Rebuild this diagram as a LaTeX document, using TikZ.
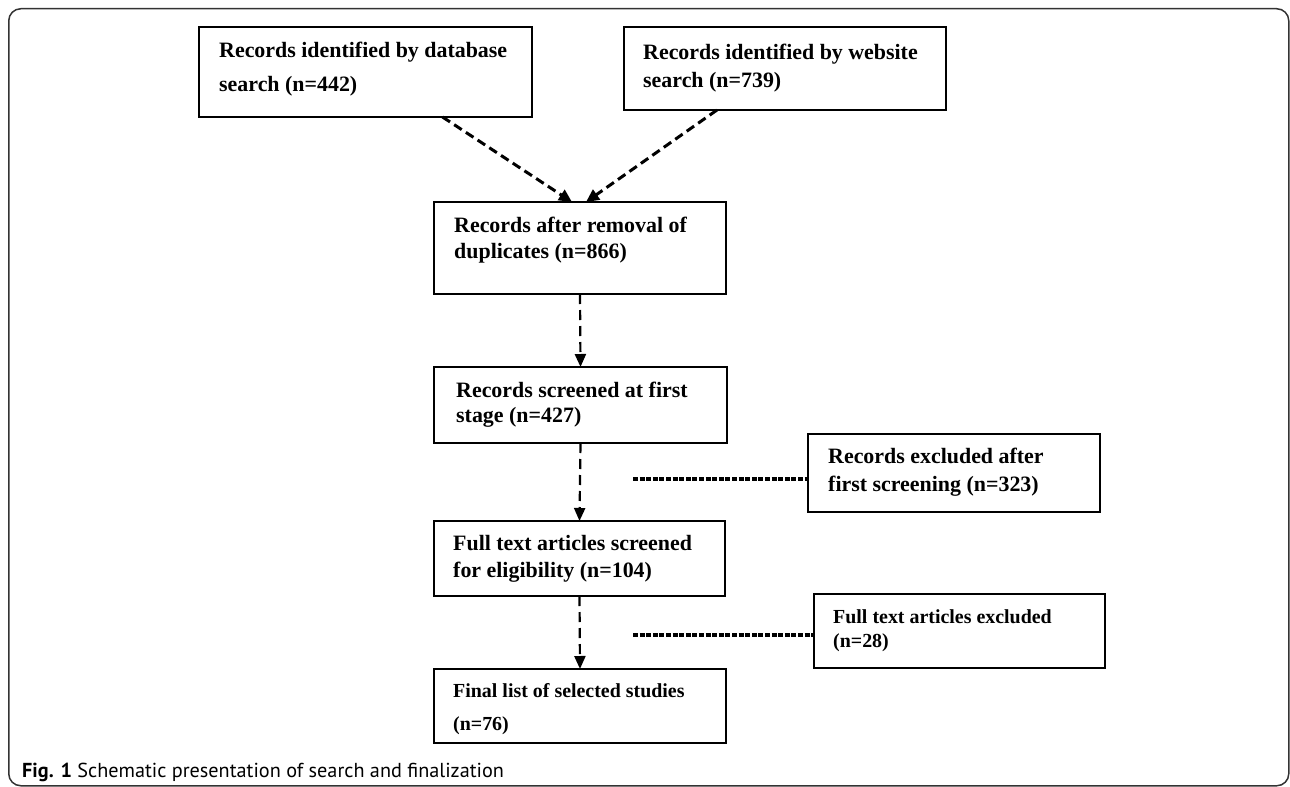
\documentclass[tikz,border=0pt]{standalone}
\usepackage{fontspec}
\setmainfont{Liberation Serif}
\newfontfamily\capfont{PT Sans}
\usetikzlibrary{arrows.meta}
\begin{document}
\begin{tikzpicture}[x=1bp,y=-1bp,
  boxnode/.style={draw=black, line width=2.6bp, inner sep=0pt, outer sep=0pt, anchor=north west},
  txt/.style={inner sep=0pt, anchor=base west, font=\bfseries\fontsize{22}{26}\selectfont},
  txts/.style={inner sep=0pt, anchor=base west, font=\bfseries\fontsize{20}{24}\selectfont},
  diagarrow/.style={line width=3bp, dash pattern=on 9bp off 5bp, -{Triangle[length=13bp,width=12bp]}},
  vertarrow/.style={line width=2.2bp, dash pattern=on 10bp off 6bp, -{Triangle[length=13bp,width=11bp]}},
  dotline/.style={line width=4bp, dash pattern=on 5bp off 1.6bp},
  framenode/.style={draw=black!80, line width=1.5bp, rounded corners=12bp, inner sep=0pt, anchor=north west}]
\useasboundingbox (0,0) rectangle (1290,787);
\node[framenode, minimum width=1280bp, minimum height=777bp] (frame) at (8,8) {};

\node[boxnode, minimum width=333bp, minimum height=90bp] (b1) at (199,27) {};
\node[boxnode, minimum width=322bp, minimum height=83bp] (b2) at (624,27) {};
\node[boxnode, minimum width=292bp, minimum height=92bp] (b3) at (434,202) {};
\node[boxnode, minimum width=293bp, minimum height=76bp] (b4) at (434,367) {};
\node[boxnode, minimum width=292bp, minimum height=78bp] (b5) at (808,434) {};
\node[boxnode, minimum width=291bp, minimum height=75bp] (b6) at (434,521) {};
\node[boxnode, minimum width=291bp, minimum height=74bp] (b7) at (814,594) {};
\node[boxnode, minimum width=292bp, minimum height=74bp] (b8) at (434,669) {};

\node[txt] (t1a) at (219,58) {Records identified by database};
\node[txt] (t1b) at (219,92) {search (n=442)};
\node[txt] (t2a) at (643,60) {Records identified by website};
\node[txt] (t2b) at (643,88) {search (n=739)};
\node[txt] (t3a) at (454,232) {Records after removal of};
\node[txt] (t3b) at (454,258) {duplicates (n=866)};
\node[txt] (t4a) at (456,397) {Records screened at first};
\node[txt] (t4b) at (456,422) {stage (n=427)};
\node[txt] (t5a) at (828,463) {Records excluded after};
\node[txt] (t5b) at (828,491) {first screening (n=323)};
\node[txt] (t6a) at (453,550) {Full text articles screened};
\node[txt] (t6b) at (453,577) {for eligibility (n=104)};
\node[txts] (t7a) at (833,623) {Full text articles excluded};
\node[txts] (t7b) at (833,647) {(n=28)};
\node[txts] (t8a) at (453,697) {Final list of selected studies};
\node[txts] (t8b) at (453,730) {(n=76)};

\draw[diagarrow] ([xshift=77bp]b1.south) -- ([xshift=-8bp]b3.north);
\draw[diagarrow] ([xshift=-68bp]b2.south) -- ([xshift=6bp]b3.north);
\draw[vertarrow] (b3.south) -- (b4.north);
\draw[vertarrow] (b4.south) -- (b6.north);
\draw[vertarrow] (b6.south) -- (b8.north);

\coordinate (d1) at (633,479);
\coordinate (d2) at (633,635);
\draw[dotline] (d1) -- (d1 -| b5.west);
\draw[dotline] (d2) -- (d2 -| b7.west);

\node[inner sep=0pt, anchor=base west, font=\capfont\fontsize{20.3}{24}\selectfont] (cap) at (22,777) {\textbf{Fig. 1} Schematic presentation of search and finalization};
\end{tikzpicture}
\end{document}
